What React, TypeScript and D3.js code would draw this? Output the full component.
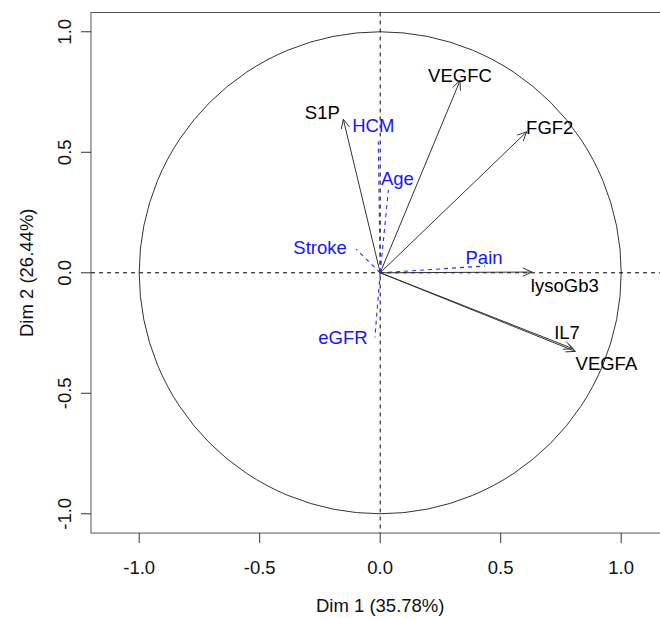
import React from "react";
import * as d3 from "d3";

// active variables (black arrows)
const activeNames = ["S1P", "VEGFC", "FGF2", "lysoGb3", "IL7", "VEGFA"];
const activeDim1 = [-0.153, 0.331, 0.608, 0.629, 0.8, 0.81];
const activeDim2 = [0.637, 0.797, 0.585, 0.003, -0.315, -0.326];

// supplementary quantitative variables (blue dashed)
const suppNames = ["HCM", "Age", "Stroke", "Pain", "eGFR"];
const suppDim1 = [-0.008, 0.034, -0.1, 0.435, -0.022];
const suppDim2 = [0.545, 0.344, 0.098, 0.028, -0.268];

const xTicks = [-1, -0.5, 0, 0.5, 1];
const yTicks = [-1, -0.5, 0, 0.5, 1];
const xTitle = "Dim 1 (35.78%)";
const yTitle = "Dim 2 (26.44%)";

// label placement, pixels from the arrow tip (x of text centre, y of baseline)
const labelNudge: Record<string, [number, number]> = {
  S1P: [-21, 0],
  VEGFC: [0, 1],
  FGF2: [23, 2],
  lysoGb3: [33, 20],
  IL7: [-6, -10],
  VEGFA: [31, 19],
  HCM: [-5, -9],
  Age: [9, -5],
  Stroke: [-36, 5],
  Pain: [-1, -2],
  eGFR: [-32, 7],
};

const width = 660;
const height = 618;
const left = 91;
const top = 12.5;
const unit = 241;
const font = "'Liberation Sans', Arial, sans-serif";

const x = d3.scaleLinear().domain([-1.2, 1.2]).range([left, left + 2.4 * unit]);
const y = d3.scaleLinear().domain([-1.08, 1.08]).range([top + 2.16 * unit, top]);

// R prints a plain hyphen for negatives
const tickFmt = (v: number): string => v.toFixed(1);

const arrowHead = (x0: number, y0: number, x1: number, y1: number): string => {
  const len = 10;
  const ang = (25 * Math.PI) / 180;
  const dir = Math.atan2(y1 - y0, x1 - x0);
  const p = d3.path();
  p.moveTo(x1 - len * Math.cos(dir - ang), y1 - len * Math.sin(dir - ang));
  p.lineTo(x1, y1);
  p.lineTo(x1 - len * Math.cos(dir + ang), y1 - len * Math.sin(dir + ang));
  return p.toString();
};

const App: React.FC = () => {
  const [xMin, xMax] = x.range();
  const [yMax, yMin] = y.range();
  const ox = x(0);
  const oy = y(0);

  return (
    <svg
      width={width}
      height={height}
      style={{ position: "absolute", left: 0, top: 0, background: "#fff" }}
      fontFamily={font}
    >
      {/* plot box */}
      <rect
        x={xMin}
        y={yMin}
        width={xMax - xMin}
        height={yMax - yMin}
        fill="none"
        stroke="#555"
        strokeWidth={1}
      />

      {/* correlation circle */}
      <circle cx={ox} cy={oy} r={x(1) - x(0)} fill="none" stroke="#333" strokeWidth={1} />

      {/* axes through origin */}
      <line x1={xMin} x2={xMax} y1={oy} y2={oy} stroke="#000" strokeDasharray="4,4" />
      <line x1={ox} x2={ox} y1={yMin} y2={yMax} stroke="#000" strokeDasharray="4,4" />

      {/* x axis */}
      {xTicks.map((t) => (
        <g key={"x" + t}>
          <line x1={x(t)} x2={x(t)} y1={yMax} y2={yMax + 10} stroke="#333" />
          <text x={x(t)} y={574} textAnchor="middle" fontSize={18.5} fill="#111">
            {tickFmt(t)}
          </text>
        </g>
      ))}
      <text x={ox} y={612} textAnchor="middle" fontSize={18.5} fill="#111">
        {xTitle}
      </text>

      {/* y axis */}
      {yTicks.map((t) => (
        <g key={"y" + t}>
          <line x1={xMin - 10} x2={xMin} y1={y(t)} y2={y(t)} stroke="#333" />
          <text
            transform={`translate(${70.5},${y(t)}) rotate(-90)`}
            textAnchor="middle"
            fontSize={18.5}
            fill="#111"
          >
            {tickFmt(t)}
          </text>
        </g>
      ))}
      <text
        transform={`translate(${33},${oy}) rotate(-90)`}
        textAnchor="middle"
        fontSize={18.5}
        fill="#111"
      >
        {yTitle}
      </text>

      {/* supplementary variables */}
      {suppNames.map((name, i) => {
        const tx = x(suppDim1[i]);
        const ty = y(suppDim2[i]);
        const [dx, dy] = labelNudge[name];
        return (
          <g key={name}>
            <line
              x1={ox}
              y1={oy}
              x2={tx}
              y2={ty}
              stroke="#2a2aff"
              strokeWidth={1.1}
              strokeDasharray="4,4"
            />
            <text x={tx + dx} y={ty + dy} textAnchor="middle" fontSize={18.5} fill="#1515ff">
              {name}
            </text>
          </g>
        );
      })}

      {/* active variables */}
      {activeNames.map((name, i) => {
        const tx = x(activeDim1[i]);
        const ty = y(activeDim2[i]);
        const [dx, dy] = labelNudge[name];
        return (
          <g key={name}>
            <line x1={ox} y1={oy} x2={tx} y2={ty} stroke="#333" strokeWidth={1} />
            <path d={arrowHead(ox, oy, tx, ty)} fill="none" stroke="#333" strokeWidth={1} />
            <text x={tx + dx} y={ty + dy} textAnchor="middle" fontSize={18.5} fill="#000">
              {name}
            </text>
          </g>
        );
      })}
    </svg>
  );
};

export default App;
